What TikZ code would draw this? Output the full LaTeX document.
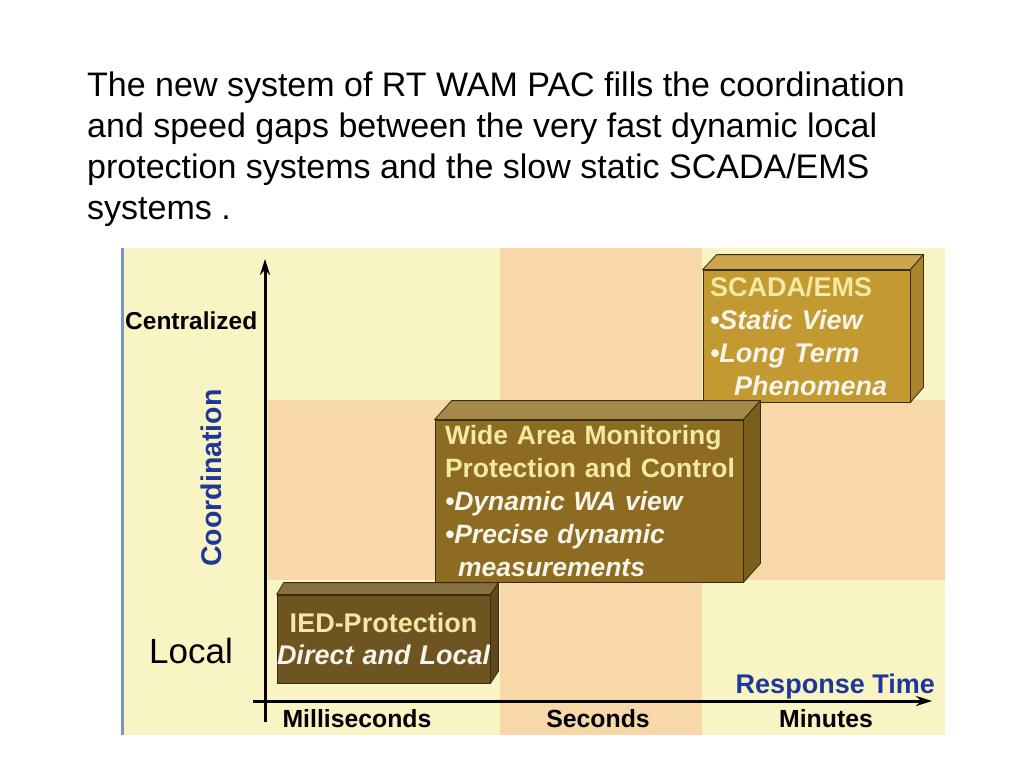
\documentclass[tikz,border=0pt]{standalone}
\usepackage{fontspec}
\setmainfont{Liberation Sans}
\usetikzlibrary{arrows.meta}
\definecolor{bgyellow}{HTML}{F8F4C3}
\definecolor{bgpeach}{HTML}{F8D8A8}
\definecolor{edgeblue}{HTML}{7B96C4}
\definecolor{labblue}{HTML}{1E3799}
\definecolor{iedfront}{HTML}{6D5421}
\definecolor{iedtop}{HTML}{85703F}
\definecolor{iedside}{HTML}{5E4A1C}
\definecolor{wamfront}{HTML}{8D6C22}
\definecolor{wamtop}{HTML}{A48A48}
\definecolor{wamside}{HTML}{7A5E1C}
\definecolor{scfront}{HTML}{C39A32}
\definecolor{sctop}{HTML}{C9A64E}
\definecolor{scside}{HTML}{A8852A}
\definecolor{headtxt}{HTML}{F3E9A2}
\definecolor{itemtxt}{HTML}{F7F4EA}
\definecolor{boxedge}{HTML}{3A2A10}
\newcommand{\hdtxt}[1]{\mbox{\color{headtxt}\bfseries #1}}
\newcommand{\ittxt}[1]{\mbox{\color{itemtxt}\bfseries\itshape #1}}
\begin{document}
\begin{tikzpicture}[x=1pt,y=-1pt,
  axisline/.style={line width=3pt,draw=black},
  axlab/.style={font=\fontsize{24.8}{28}\selectfont\bfseries,inner sep=0pt},
  front/.style={draw=boxedge,line width=0.8pt,inner ysep=0pt,align=left},
  bevel/.style={draw=boxedge,line width=0.8pt,line join=round}]
\useasboundingbox (0,0) rectangle (1024,768);
\fill[white] (0,0) rectangle (1024,768);
% title
\node[anchor=north west,inner sep=0pt,align=left,font=\fontsize{34}{41}\selectfont] (title) at (87,72)
 {The new system of RT WAM PAC fills the coordination\\
  and speed gaps between the very fast dynamic local\\
  protection systems and the slow static SCADA/EMS\\
  systems .};
% background panel
\fill[bgyellow] (122,248) rectangle (945,735);
\fill[bgpeach] (268,400) rectangle (945,580);
\fill[bgpeach] (500,248) rectangle (702,735);
\draw[edgeblue,line width=3pt] (122,248) -- (122,735);
% axes
\coordinate (vb) at (265,722);
\coordinate (vt) at (265,259);
\coordinate (hl) at (253,701);
\coordinate (hr) at (932,701);
\draw[axisline,-{Stealth[length=16pt,width=10pt]}] (vb) -- (vt);
\draw[axisline,-{Stealth[length=16pt,width=10pt]}] (hl) -- (hr);
% axis labels
\node[anchor=base west,inner sep=0pt,font=\fontsize{24.5}{28}\selectfont\bfseries] (cent) at (125,329) {Centralized};
\node[anchor=base west,inner sep=0pt,font=\fontsize{35}{38}\selectfont] (local) at (149,663) {Local};
\node[rotate=90,inner sep=0pt,text=labblue,font=\fontsize{28.5}{32}\selectfont\bfseries] (coord) at (211,478) {Coordination};
\node[anchor=base east,inner sep=0pt,text=labblue,font=\fontsize{27}{30}\selectfont\bfseries] (resp) at (935,693) {Response Time};
\node[axlab,anchor=base] (ms) at (357,727) {Milliseconds};
\node[axlab,anchor=base] (sec) at (598,727) {Seconds};
\node[axlab,anchor=base] (min) at (826,727) {Minutes};
% SCADA box
\node[front,fill=scfront,minimum height=132pt,inner xsep=7pt,text width=193pt,
  font=\fontsize{27}{33}\selectfont] (scada) at (806.5,336)
 {\hdtxt{SCADA/EMS}\\ \ittxt{\textbullet Static View}\\ \ittxt{\textbullet Long Term}\\ \ittxt{\hspace*{24pt}Phenomena}};
\filldraw[bevel,fill=sctop] (scada.north west) -- ++(14,-15) -- ([shift={(13,-15)}]scada.north east) -- (scada.north east) -- cycle;
\filldraw[bevel,fill=scside] (scada.north east) -- ++(13,-15) -- ([shift={(13,-15)}]scada.south east) -- (scada.south east) -- cycle;
% WAMPAC box
\node[front,fill=wamfront,minimum height=162pt,inner xsep=10pt,text width=288pt,
  font=\fontsize{26.5}{33}\selectfont] (wam) at (589,501)
 {\hdtxt{Wide Area Monitoring}\\ \hdtxt{Protection and Control}\\ \ittxt{\textbullet Dynamic WA view}\\ \ittxt{\textbullet Precise dynamic}\\ \ittxt{\hspace*{13pt}measurements}};
\filldraw[bevel,fill=wamtop] (wam.north west) -- ++(17,-19) -- ([shift={(17,-19)}]wam.north east) -- (wam.north east) -- cycle;
\filldraw[bevel,fill=wamside] (wam.north east) -- ++(17,-19) -- ([shift={(17,-19)}]wam.south east) -- (wam.south east) -- cycle;
% IED box
\node[front,fill=iedfront,minimum height=88pt,inner xsep=0pt,text width=213pt,align=center,
  font=\fontsize{27}{32}\selectfont] (ied) at (383.5,639)
 {\hdtxt{IED-Protection}\\ \ittxt{Direct and Local}};
\filldraw[bevel,fill=iedtop] (ied.north west) -- ++(7,-12) -- ([shift={(8,-12)}]ied.north east) -- (ied.north east) -- cycle;
\filldraw[bevel,fill=iedside] (ied.north east) -- ++(8,-12) -- ([shift={(8,-12)}]ied.south east) -- (ied.south east) -- cycle;
\end{tikzpicture}
\end{document}
